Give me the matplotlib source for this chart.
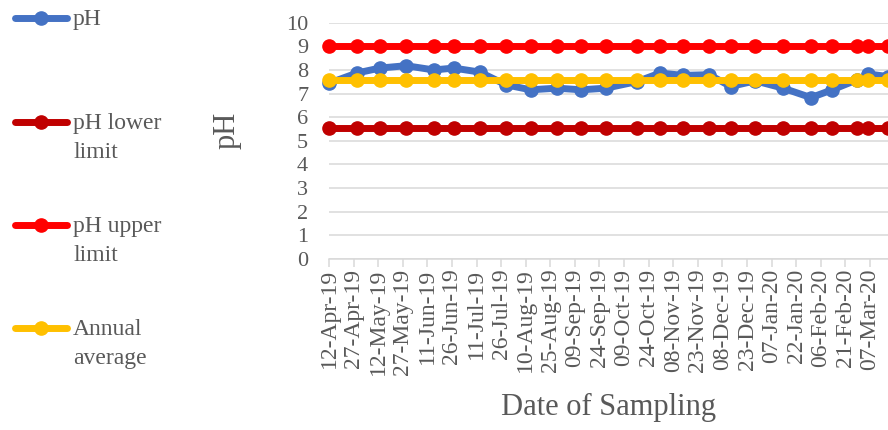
import numpy as np
import pandas as pd
import matplotlib
matplotlib.use('Agg')
import matplotlib.pyplot as plt
from matplotlib.lines import Line2D

plt.rcParams['font.family'] = ['Liberation Serif', 'DejaVu Serif']

# sampling dates and readings
sample_dates = ['2019-04-12', '2019-04-29', '2019-05-13', '2019-05-29', '2019-06-15',
                '2019-06-27', '2019-07-13', '2019-07-29', '2019-08-13', '2019-08-29',
                '2019-09-13', '2019-09-28', '2019-10-17', '2019-10-31', '2019-11-14',
                '2019-11-30', '2019-12-13', '2019-12-28', '2020-01-14', '2020-01-31',
                '2020-02-13', '2020-02-28', '2020-03-06', '2020-03-18']
ph = [7.44, 7.87, 8.08, 8.18, 8.00, 8.08, 7.91, 7.37, 7.16, 7.23, 7.16, 7.23,
      7.51, 7.87, 7.77, 7.80, 7.30, 7.54, 7.23, 6.83, 7.16, 7.58, 7.83, 7.72]
ph_lower = [5.55] * len(sample_dates)
ph_upper = [9.0] * len(sample_dates)
annual_avg = [7.58] * len(sample_dates)

series_names = ['pH', 'pH lower\nlimit', 'pH upper\nlimit', 'Annual\naverage']
series_colors = ['#4472C4', '#C00000', '#FF0000', '#FFC000']

tick_start = '2019-04-12'
tick_count = 23
tick_step_days = 15

W, H = 888, 430
gray = '#595959'
grid_gray = '#D9D9D9'


def main():
    dates = pd.to_datetime(sample_dates)
    ticks = pd.date_range(tick_start, periods=tick_count, freq='%dD' % tick_step_days)

    fig = plt.figure(figsize=(W / 100, H / 100), dpi=100)
    ax = fig.add_axes([329 / W, 1 - 259 / H, (888 - 329) / W, (259 - 22.7) / H])

    all_series = [ph, ph_lower, ph_upper, annual_avg]
    for i, (vals, col) in enumerate(zip(all_series, series_colors)):
        ax.plot(dates, vals, color=col, lw=5.0, marker='o', ms=9.5,
                solid_capstyle='round', zorder=3 + i, clip_on=False)

    ax.set_xlim(dates[0], dates[-1])
    ax.set_ylim(0, 10)
    ax.set_yticks(np.arange(0, 11, 1))
    ax.set_xticks(ticks)
    ax.set_xticklabels([d.strftime('%d-%b-%y') for d in ticks], rotation=90,
                       fontsize=17, color=gray)
    ax.tick_params(axis='y', length=0, pad=15, labelsize=16, labelcolor=gray)
    ax.tick_params(axis='x', length=5.5, width=1.1, color=grid_gray, pad=1.5)

    ax.grid(axis='y', color=grid_gray, lw=1.1, zorder=0)
    ax.set_axisbelow(True)
    for side in ['top', 'right', 'left']:
        ax.spines[side].set_visible(False)
    ax.spines['bottom'].set_color(grid_gray)
    ax.spines['bottom'].set_linewidth(1.1)

    ax.set_ylabel('pH', fontsize=22, color=gray)
    ax.yaxis.set_label_coords(-0.157, 0.545)
    ax.set_xlabel('Date of Sampling', fontsize=22, color=gray)
    ax.xaxis.set_label_coords(0.5, -0.567)

    # legend on the left, handle lined up with the first text line
    legend_rows = [18, 122, 225, 328]
    for name, col, yp in zip(series_names, series_colors, legend_rows):
        y = 1 - yp / H
        fig.add_artist(Line2D([15 / W, 41 / W, 67 / W], [y, y, y],
                              transform=fig.transFigure, color=col, lw=5.0,
                              solid_capstyle='round', marker='o', ms=9.5,
                              markevery=[1]))
        fig.text(73 / W, 1 - (yp - 9) / H, name, fontsize=17, color=gray,
                 va='top', ha='left', linespacing=1.5)

    fig.savefig('out.png', dpi=100)


if __name__ == '__main__':
    main()
